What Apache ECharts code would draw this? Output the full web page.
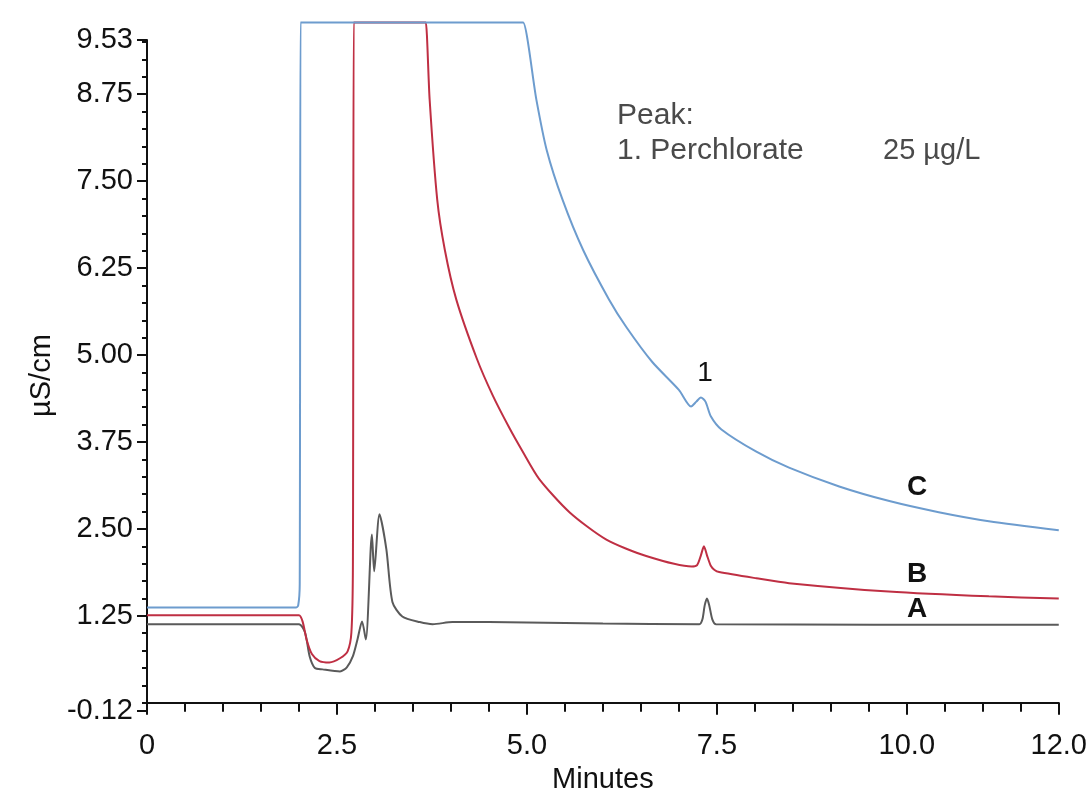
<!DOCTYPE html>
<html>
<head>
<meta charset="utf-8">
<script src="https://cdn.jsdelivr.net/npm/echarts@6/dist/echarts.min.js"></script>
<style>
  html, body { margin: 0; padding: 0; background: #fff; }
  #chart { width: 1090px; height: 799px; }
</style>
</head>
<body>
<div id="chart"></div>
<script>
// traces: [minutes, µS/cm]
const traceA = [
  [0, 1.13], [2.0, 1.13], [2.08, 1.01], [2.14, 0.67], [2.21, 0.5], [2.31, 0.48],
  [2.54, 0.45], [2.63, 0.51], [2.71, 0.67], [2.77, 0.91], [2.83, 1.17], [2.88, 0.91],
  [2.96, 2.42], [2.99, 1.89], [3.06, 2.71], [3.15, 2.21], [3.23, 1.45], [3.36, 1.24],
  [3.59, 1.16], [3.76, 1.13], [4.02, 1.16], [4.5, 1.16], [6.0, 1.14], [7.27, 1.13],
  [7.31, 1.2], [7.34, 1.4], [7.37, 1.5], [7.4, 1.4], [7.44, 1.2], [7.49, 1.13], [12.0, 1.12]
]

const traceB = [
  [0, 1.26], [2.0, 1.26], [2.05, 1.16], [2.1, 0.91], [2.17, 0.7], [2.27, 0.6],
  [2.4, 0.58], [2.54, 0.64], [2.64, 0.74], [2.69, 1.01], [2.71, 2.0], [2.72, 9.78],
  [2.73, 9.78], [3.66, 9.78], [3.67, 9.78], [3.72, 8.67], [3.82, 7.23], [3.92, 6.51],
  [4.07, 5.8], [4.34, 4.95], [4.55, 4.42], [4.77, 3.95], [4.94, 3.62], [5.16, 3.22],
  [5.56, 2.74], [6.04, 2.35], [6.57, 2.11], [7.17, 1.96], [7.24, 1.98], [7.29, 2.12],
  [7.33, 2.25], [7.37, 2.12], [7.42, 1.97], [7.47, 1.91], [7.53, 1.88], [8.02, 1.79],
  [8.45, 1.72], [9.76, 1.6], [11.08, 1.53], [12.0, 1.5]
]

const traceC = [
  [0, 1.37], [1.96, 1.37], [1.99, 1.4], [2.01, 1.7], [2.02, 9.78], [2.03, 9.78],
  [4.94, 9.78], [4.95, 9.78], [5.125, 8.67], [5.26, 7.95], [5.47, 7.23], [5.74, 6.51],
  [6.08, 5.8], [6.31, 5.4], [6.65, 4.9], [7.0, 4.5], [7.16, 4.26], [7.23, 4.33],
  [7.29, 4.39], [7.35, 4.33], [7.42, 4.12], [7.56, 3.93], [8.02, 3.61],
  [8.45, 3.38], [9.11, 3.11], [9.77, 2.9], [10.42, 2.74], [11.08, 2.61], [12.0, 2.48]
]

const xMajorTicks = [0, 2.5, 5, 7.5, 10, 12]
const xMinorTicks = [0, 0.5, 1, 1.5, 2, 2.5, 3, 3.5, 4, 4.5, 5, 5.5, 6, 6.5, 7, 7.5,
  8, 8.5, 9, 9.5, 10, 10.5, 11, 11.5, 12]
const yMajorTicks = [-0.12, 1.25, 2.5, 3.75, 5, 6.25, 7.5, 8.75, 9.53]
const yMinorTicks = [0, 0.25, 0.5, 0.75, 1, 1.25, 1.5, 1.75, 2, 2.25, 2.5, 2.75, 3,
  3.25, 3.5, 3.75, 4, 4.25, 4.5, 4.75, 5, 5.25, 5.5, 5.75, 6, 6.25, 6.5, 6.75, 7,
  7.25, 7.5, 7.75, 8, 8.25, 8.5, 8.75, 9, 9.25, 9.5]

const font = 'Liberation Sans'
const axisColor = '#111'

const chart = echarts.init(document.getElementById('chart'))

const lineSeries = (name, data, color) => ({
  name: name,
  type: 'line',
  data: data,
  showSymbol: false,
  symbol: 'none',
  smooth: 0.25,
  clip: false,
  lineStyle: { width: 2, color: color }
})

const label = (text, x, y, opts) => ({
  type: 'text',
  x: x,
  y: y,
  style: Object.assign({
    text: text,
    fontFamily: font,
    fontSize: 30,
    fill: '#111',
    align: 'left',
    verticalAlign: 'middle'
  }, opts || {})
})

chart.setOption({
  animation: false,
  backgroundColor: '#fff',
  grid: { left: 147, right: 30, top: 40, bottom: 87 },
  xAxis: [
    {
      type: 'value',
      min: 0,
      max: 12,
      name: 'Minutes',
      nameLocation: 'middle',
      nameGap: 52,
      nameTextStyle: { fontFamily: font, fontSize: 29, color: axisColor },
      axisLine: { show: true, lineStyle: { color: axisColor, width: 2 } },
      axisTick: { show: true, customValues: xMajorTicks, length: 12, lineStyle: { color: axisColor, width: 2 } },
      axisLabel: {
        customValues: xMajorTicks,
        margin: 20,
        fontFamily: font,
        fontSize: 29,
        color: axisColor,
        formatter: (v) => (v === 0 ? '0' : v.toFixed(1))
      },
      splitLine: { show: false }
    },
    {
      type: 'value',
      min: 0,
      max: 12,
      position: 'bottom',
      axisLine: { show: false },
      axisTick: { show: true, customValues: xMinorTicks, length: 9, lineStyle: { color: axisColor, width: 2 } },
      axisLabel: { show: false },
      splitLine: { show: false }
    }
  ],
  yAxis: [
    {
      type: 'value',
      min: -0.12,
      max: 9.53,
      name: 'µS/cm',
      nameLocation: 'middle',
      nameRotate: 90,
      nameGap: 67,
      nameTextStyle: { fontFamily: font, fontSize: 29, color: axisColor },
      axisLine: { show: true, lineStyle: { color: axisColor, width: 2 } },
      axisTick: { show: true, customValues: yMajorTicks, length: 10, lineStyle: { color: axisColor, width: 2 } },
      axisLabel: {
        customValues: yMajorTicks,
        margin: 14,
        fontFamily: font,
        fontSize: 29,
        color: axisColor,
        formatter: (v) => v.toFixed(2)
      },
      splitLine: { show: false }
    },
    {
      type: 'value',
      min: -0.12,
      max: 9.53,
      position: 'left',
      axisLine: { show: false },
      axisTick: { show: true, customValues: yMinorTicks, length: 5, lineStyle: { color: axisColor, width: 2 } },
      axisLabel: { show: false },
      splitLine: { show: false }
    }
  ],
  series: [
    lineSeries('A', traceA, '#5a5a5a'),
    lineSeries('B', traceB, '#bf2f43'),
    lineSeries('C', traceC, '#6d9cce')
  ],
  graphic: [
    label('Peak:', 617, 116, { fill: '#4a4a4a' }),
    label('1. Perchlorate', 617, 151, { fill: '#4a4a4a' }),
    label('25 µg/L', 883, 151, { fill: '#4a4a4a', fontSize: 29 }),
    label('1', 705, 373, { align: 'center', fontSize: 28 }),
    label('C', 917, 487, { align: 'center', fontWeight: 'bold', fontSize: 28 }),
    label('B', 917, 574, { align: 'center', fontWeight: 'bold', fontSize: 28 }),
    label('A', 917, 609, { align: 'center', fontWeight: 'bold', fontSize: 28 })
  ]
})
</script>
</body>
</html>
